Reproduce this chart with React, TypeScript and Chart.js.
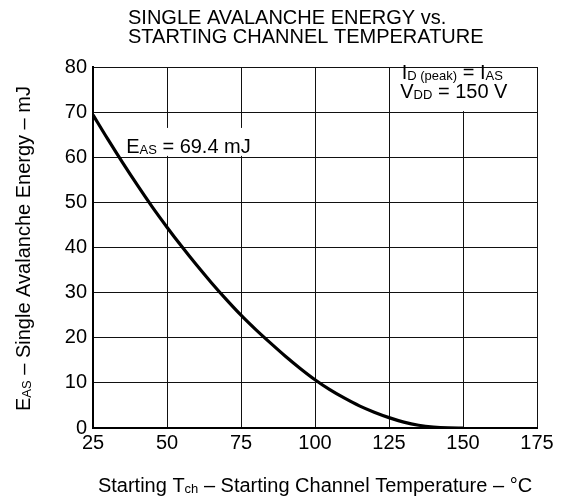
import React, { useEffect, useRef } from 'react';
import { Chart, registerables } from 'chart.js';

Chart.register(...registerables);

// ---- Data ----
const temperatures = [25, 30, 35, 40, 45, 50, 55, 60, 65, 70, 75, 80, 85, 90, 95, 100, 105, 110, 115, 120, 125, 130, 135, 140, 145, 150];
const energies = [69.4, 64.0, 58.8, 53.8, 49.0, 44.5, 40.2, 36.1, 32.2, 28.5, 25.0, 21.8, 18.8, 15.9, 13.2, 10.7, 8.5, 6.6, 4.9, 3.5, 2.3, 1.3, 0.6, 0.2, 0.03, 0];
const xTickValues = [25, 50, 75, 100, 125, 150, 175];
const yTickValues = [0, 10, 20, 30, 40, 50, 60, 70, 80];
const titleLines = ['SINGLE AVALANCHE ENERGY vs.', 'STARTING CHANNEL TEMPERATURE'];
const xTitleSegs: [string, boolean][] = [['Starting T', false], ['ch', true], [' – Starting Channel Temperature – °C', false]];
const yTitleSegs: [string, boolean][] = [['E', false], ['AS', true], [' – Single Avalanche Energy – mJ', false]];
const easLabelSegs: [string, boolean][] = [['E', false], ['AS', true], [' = 69.4 mJ', false]];
const condLine1: [string, boolean][] = [['I', false], ['D (peak)', true], [' = I', false], ['AS', true]];
const condLine2: [string, boolean][] = [['V', false], ['DD', true], [' = 150 V', false]];

const FONT = "'Liberation Sans', Arial, Helvetica, sans-serif";
const MAIN = 20;
const SUB = 13;

function drawRich(ctx: CanvasRenderingContext2D, segs: [string, boolean][], x: number, y: number, align: 'left' | 'center') {
  let total = 0;
  for (const [t, sub] of segs) {
    ctx.font = `${sub ? SUB : MAIN}px ${FONT}`;
    total += ctx.measureText(t).width;
  }
  let cx = align === 'center' ? x - total / 2 : x;
  ctx.textAlign = 'left';
  ctx.textBaseline = 'alphabetic';
  for (const [t, sub] of segs) {
    ctx.font = `${sub ? SUB : MAIN}px ${FONT}`;
    ctx.fillText(t, cx, y + (sub ? 1 : 0));
    cx += ctx.measureText(t).width;
  }
}

const decorPlugin = {
  id: 'decor',
  beforeDatasetsDraw(chart: any) {
    const { ctx, scales } = chart;
    const xs = scales.x;
    const ys = scales.y;
    ctx.save();
    ctx.fillStyle = '#fff';
    // box behind conditions (cell 125..175, 70..80)
    const bx1 = xs.getPixelForValue(125) + 1;
    const bx2 = xs.getPixelForValue(175) - 1;
    const by1 = ys.getPixelForValue(80) + 1;
    const by2 = ys.getPixelForValue(70) - 1;
    ctx.fillRect(bx1, by1, bx2 - bx1, by2 - by1);
    // box behind EAS label
    const lx1 = xs.getPixelForValue(34.5);
    const lx2 = xs.getPixelForValue(80);
    const ly1 = ys.getPixelForValue(66.5);
    const ly2 = ys.getPixelForValue(60.3);
    ctx.fillRect(lx1, ly1, lx2 - lx1, ly2 - ly1);
    ctx.restore();
  },
  afterDraw(chart: any) {
    const { ctx, scales, chartArea } = chart;
    const xs = scales.x;
    const ys = scales.y;
    ctx.save();
    ctx.fillStyle = '#000';
    // Title
    ctx.font = `${MAIN}px ${FONT}`;
    ctx.textAlign = 'left';
    ctx.textBaseline = 'alphabetic';
    ctx.fillText(titleLines[0], 128, 24);
    ctx.fillText(titleLines[1], 128, 43);
    // X title
    drawRich(ctx, xTitleSegs, (chartArea.left + chartArea.right) / 2, 492, 'center');
    // Y title
    ctx.save();
    ctx.translate(30, (chartArea.top + chartArea.bottom) / 2 + 1);
    ctx.rotate(-Math.PI / 2);
    drawRich(ctx, yTitleSegs, 0, 0, 'center');
    ctx.restore();
    // Annotations
    drawRich(ctx, easLabelSegs, xs.getPixelForValue(36.2), ys.getPixelForValue(60.9), 'left');
    drawRich(ctx, condLine1, xs.getPixelForValue(129.3), ys.getPixelForValue(77.4), 'left');
    drawRich(ctx, condLine2, xs.getPixelForValue(128.8), ys.getPixelForValue(73.2), 'left');
    ctx.restore();
  },
};

export default function App() {
  const ref = useRef<HTMLCanvasElement | null>(null);
  useEffect(() => {
    if (!ref.current) return;
    const chart = new Chart(ref.current, {
      type: 'line',
      data: {
        datasets: [
          {
            data: temperatures.map((t, i) => ({ x: t, y: energies[i] })),
            borderColor: '#000',
            borderWidth: 3.2,
            pointRadius: 0,
            cubicInterpolationMode: 'monotone',
            fill: false,
          },
        ],
      },
      options: {
        responsive: false,
        animation: false,
        layout: { padding: { top: 67, right: 30, left: 0, bottom: 0 } },
        plugins: { legend: { display: false }, title: { display: false }, tooltip: { enabled: false } },
        scales: {
          x: {
            type: 'linear',
            min: 25,
            max: 175,
            afterBuildTicks: (s: any) => { s.ticks = xTickValues.map((v) => ({ value: v })); },
            afterFit: (s: any) => { s.height = 74; },
            ticks: { color: '#000', font: { family: FONT, size: MAIN }, padding: 3, maxRotation: 0, autoSkip: false },
            grid: { color: '#111', lineWidth: 1, drawTicks: false },
            border: { color: '#000', width: 2 },
          },
          y: {
            type: 'linear',
            min: 0,
            max: 80,
            afterBuildTicks: (s: any) => { s.ticks = yTickValues.map((v) => ({ value: v })); },
            afterFit: (s: any) => { s.width = 93; },
            ticks: { color: '#000', font: { family: FONT, size: MAIN }, padding: 6, autoSkip: false },
            grid: { color: '#111', lineWidth: 1, drawTicks: false },
            border: { color: '#000', width: 2 },
          },
        },
      },
      plugins: [decorPlugin],
    } as any);
    return () => chart.destroy();
  }, []);
  return (
    <div style={{ position: 'absolute', left: 0, top: 0, width: 567, height: 502, background: '#fff' }}>
      <canvas ref={ref} width={567} height={502} style={{ width: 567, height: 502, display: 'block' }} />
    </div>
  );
}
